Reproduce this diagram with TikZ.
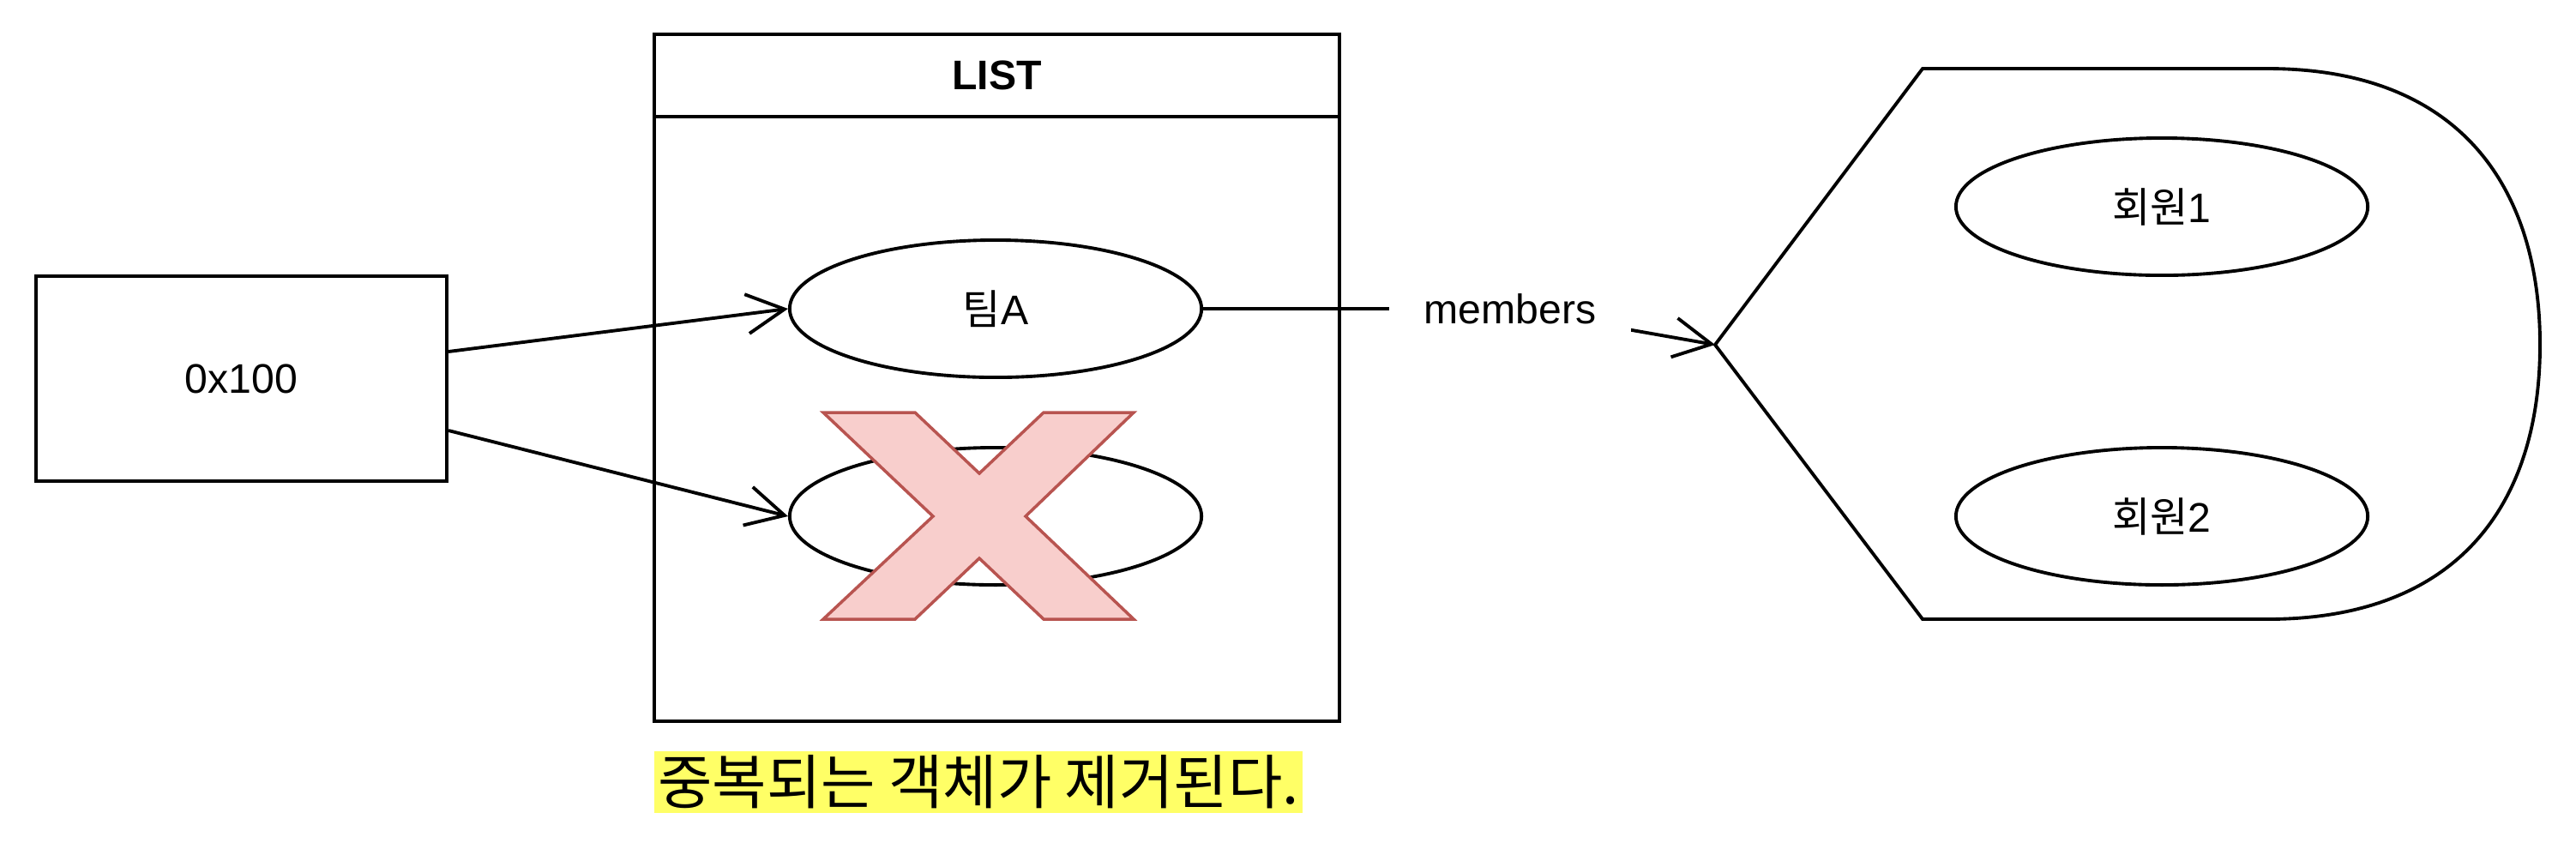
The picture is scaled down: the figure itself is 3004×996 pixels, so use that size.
\documentclass[tikz,border=0pt]{standalone}
\usepackage{fontspec}
\setmainfont{Liberation Sans}
\newfontfamily\kr{Noto Sans CJK KR}
\usetikzlibrary{shapes.geometric,arrows.meta}
\definecolor{xfill}{HTML}{F8CECC}
\definecolor{xline}{HTML}{B85450}
\definecolor{marca}{HTML}{FFFF66}

\tikzset{
  caja/.style={draw, line width=1.1pt, minimum width=4.79cm, minimum height=2.39cm, inner sep=0pt},
  elem/.style={draw, ellipse, line width=1.1pt, minimum width=4.8cm, minimum height=1.6cm, inner sep=0pt},
  flecha/.style={line width=1.1pt, -{Straight Barb[length=4.4mm,width=4.6mm]}},
  txt/.style={font=\fontsize{13.7pt}{16pt}\selectfont},
}

\begin{document}
\begin{tikzpicture}[x=0.01cm, y=-0.01cm, txt]
    \useasboundingbox (0,0) rectangle (3004,996);

    % Referencia
    \node[caja] (addr) at (281.5,441.5) {0x100};

    % Lista
    \node[caja, minimum width=7.99cm, minimum height=8.01cm] (list) at (1162.5,440.5) {};
    \node[caja, minimum width=7.99cm, minimum height=0.96cm, anchor=north,
          font=\fontsize{13.7pt}{16pt}\selectfont\bfseries] (listhead) at (list.north) {LIST};
    \node[elem] (teamA) at (1161,360) {{\kr 팀}A};
    \node[elem] (dup) at (1161,602) {};

    % Cruz sobre el duplicado
    \draw[xline, fill=xfill, line width=1pt]
        (960,481) -- (1067,481) -- (1142,552) -- (1217,481) -- (1322,481) -- (1196,602)
        -- (1322,722) -- (1217,722) -- (1142,651) -- (1067,722) -- (960,722) -- (1088,602) -- cycle;

    % Conjunto de miembros
    \node[elem] (m1) at (2521,241) {{\kr 회원}1};
    \node[elem] (m2) at (2521,602) {{\kr 회원}2};
    \coordinate (setL) at (2000,402);
    \draw[line width=1.1pt] (setL) -- (2242,80) -- (2644,80)
        .. controls (2870,80) and (2962,220) .. (2962,402)
        .. controls (2962,584) and (2870,722) .. (2644,722) -- (2242,722) -- cycle;

    % Conectores
    \draw[flecha] ([yshift=3.15mm]addr.east) -- (teamA.west);
    \draw[flecha] ([yshift=-6.05mm]addr.east) -- (dup.west);
    \coordinate (bend) at (1761,360);
    \draw[flecha] (teamA.east) -- (bend) -- (setL);
    \node[fill=white, minimum width=2.82cm, minimum height=0.6cm, inner sep=0pt] (members) at (bend) {members};

    % Nota
    \node[fill=marca, inner sep=0pt, minimum width=7.56cm, minimum height=0.72cm,
          font=\kr\fontsize{19.6pt}{22pt}\selectfont] (nota) at (1141,912) {중복되는 객체가 제거된다.};
\end{tikzpicture}
\end{document}
